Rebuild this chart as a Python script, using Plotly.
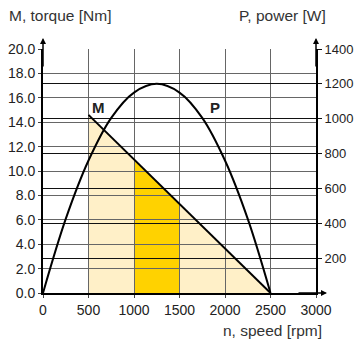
import plotly.graph_objects as go

# speed [rpm]
speed_torque = [500, 2500]
torque = [14.6, 0.0]

speed_power = [0, 250, 500, 750, 1000, 1250, 1500, 1750, 2000, 2250, 2500]
power = [0, 425, 760, 1005, 1150, 1200, 1150, 1005, 760, 425, 0]

# operating ranges under the torque line
light_ranges = [(500, 1000), (1500, 2500)]
dark_range = (1000, 1500)

x_ticks = [0, 500, 1000, 1500, 2000, 2500, 3000]
left_ticks = [0, 2, 4, 6, 8, 10, 12, 14, 16, 18, 20]
right_ticks = [200, 400, 600, 800, 1000, 1200, 1400]

LIGHT = "rgb(255,240,200)"
GOLD = "rgb(255,210,0)"
FONT = "Liberation Sans, Arial, sans-serif"


def torque_at(n):
    (n0, n1), (m0, m1) = speed_torque, torque
    return m0 + (m1 - m0) * (n - n0) / (n1 - n0)


def area_path(a, b):
    return f"M {a},0 L {a},{torque_at(a)} L {b},{torque_at(b)} L {b},0 Z"


fig = go.Figure()

shapes = []
for a, b in light_ranges:
    shapes.append(dict(type="path", path=area_path(a, b), xref="x", yref="y",
                       fillcolor=LIGHT, line=dict(width=0), layer="below"))
shapes.append(dict(type="path", path=area_path(*dark_range), xref="x", yref="y",
                   fillcolor=GOLD, line=dict(width=0), layer="below"))

fig.add_trace(go.Scatter(x=speed_torque, y=torque, mode="lines",
                         line=dict(color="black", width=2), yaxis="y",
                         showlegend=False, hoverinfo="skip"))
fig.add_trace(go.Scatter(x=speed_power, y=power, mode="lines",
                         line=dict(color="black", width=2, shape="spline", smoothing=1.0),
                         yaxis="y2", showlegend=False, hoverinfo="skip"))

# pixel positions -> paper fractions
W, H = 355, 340
L, R, T, B = 43, 39, 49, 47
pw, ph = W - L - R, H - T - B

titles = [("M, torque [Nm]", 7, 16, "left"),
          ("P, power [W]", 328, 16, "right"),
          ("n, speed [rpm]", 324, 330, "right")]
anns = []
for text, px_x, px_y, anchor in titles:
    anns.append(dict(text=text, x=(px_x - L) / pw, y=1 - (px_y - T) / ph,
                     xref="paper", yref="paper", showarrow=False, xanchor=anchor,
                     yanchor="middle", font=dict(size=15.5, color="#333", family=FONT)))

anns.append(dict(text="<b>M</b>", x=615, y=15.2, xref="x", yref="y", showarrow=False,
                 font=dict(size=15, color="#222", family=FONT)))
anns.append(dict(text="<b>P</b>", x=1885, y=1062, xref="x", yref="y2", showarrow=False,
                 font=dict(size=15, color="#222", family=FONT)))

# axis arrows
arrow = dict(showarrow=True, arrowhead=2, arrowsize=0.8, arrowwidth=1.5,
             arrowcolor="black", text="", axref="pixel", ayref="pixel")
anns.append(dict(arrow, x=0, y=1 + 11 / ph, xref="paper", yref="paper", ax=0, ay=30))
anns.append(dict(arrow, x=1, y=1 + 11 / ph, xref="paper", yref="paper", ax=0, ay=30))
anns.append(dict(arrow, x=1 + 11 / pw, y=0, xref="paper", yref="paper", ax=-30, ay=0))

fig.update_layout(
    width=W, height=H,
    margin=dict(l=L, r=R, t=T, b=B),
    paper_bgcolor="white", plot_bgcolor="white",
    font=dict(family=FONT, size=14, color="#222"),
    shapes=shapes,
    annotations=anns,
    xaxis=dict(range=[0, 3000], tickvals=x_ticks, showgrid=True, gridcolor="#666",
               gridwidth=1, showline=True, linecolor="black", linewidth=2,
               ticks="outside", ticklen=3, tickcolor="#444", zeroline=False,
               fixedrange=True, automargin=False),
    yaxis=dict(range=[0, 20], tickvals=left_ticks, tickformat=".1f", showgrid=True,
               gridcolor="#666", gridwidth=1, showline=True, linecolor="black",
               linewidth=2, ticks="outside", ticklen=3, tickcolor="#444",
               zeroline=False, fixedrange=True, automargin=False),
    yaxis2=dict(range=[0, 1400], tickvals=right_ticks, overlaying="y", side="right",
                showgrid=True, gridcolor="#111", gridwidth=1, showline=True,
                linecolor="black", linewidth=2, ticks="outside", ticklen=4,
                tickcolor="#111", zeroline=False, fixedrange=True, automargin=False,
                tickfont=dict(size=13)),
)

# drop the browser's default body margin so the figure sits at the top-left corner
fig.write_html("out.html", config={"displayModeBar": False},
               post_script="document.body.style.margin='0';document.body.style.overflow='hidden';")
